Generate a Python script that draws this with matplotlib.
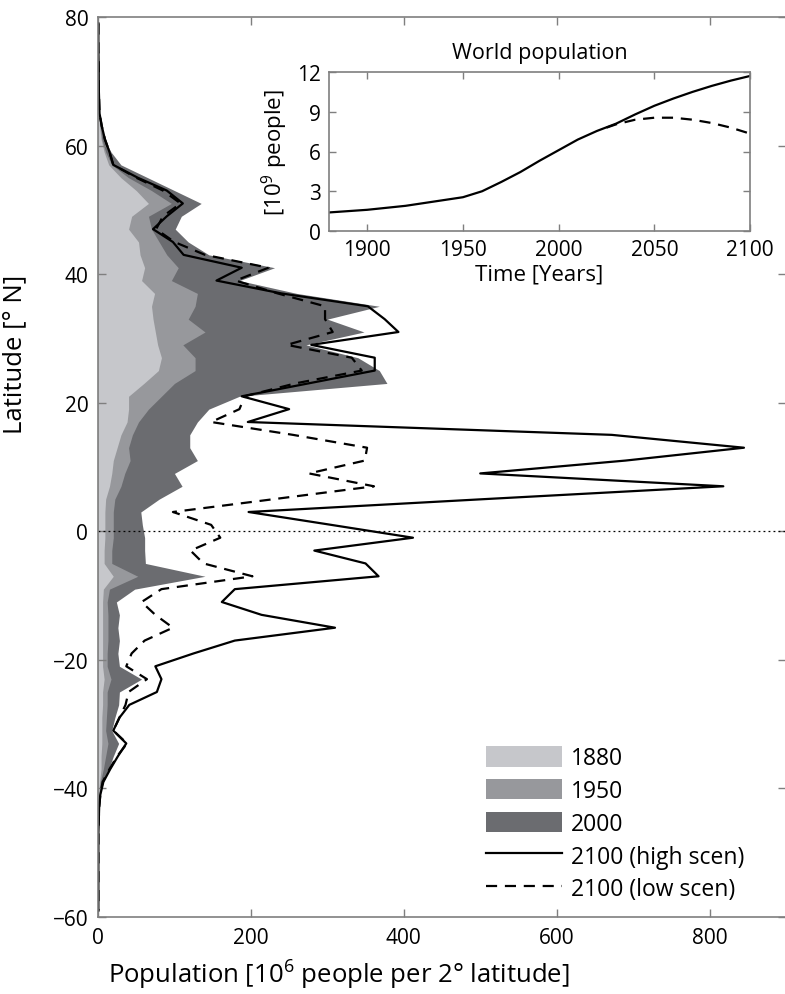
import matplotlib
matplotlib.use("Agg")
import matplotlib.pyplot as plt
import numpy as np
from matplotlib.patches import Patch
from matplotlib.lines import Line2D

plt.rcParams['font.family'] = ['Open Sans', 'DejaVu Sans']
plt.rcParams['mathtext.fontset'] = 'custom'
plt.rcParams['mathtext.rm'] = 'Open Sans'
plt.rcParams['mathtext.default'] = 'regular'

# latitude bin centres (2 degree bins)
lat = np.arange(79, -60, -2)

pop_1880 = [0, 0, 0, 0, 0, 0, 0.5, 1, 2, 4, 8, 14, 30, 50, 66, 44, 40, 53, 55, 61,
            57, 74, 70, 72, 75, 78, 83, 79, 60, 40, 40, 38, 30, 25, 20, 18, 15, 10, 9, 9,
            9, 8, 8, 20, 7, 6, 6, 6, 6, 6, 6, 8, 6, 6, 5, 5, 5, 4, 4, 2,
            1, 0.5, 0, 0, 0, 0, 0, 0, 0, 0]
pop_1950 = [0, 0, 0, 0, 0, 0.5, 1, 1.5, 3, 5, 10, 18, 40, 70, 96, 66, 70, 80, 90, 105,
            96, 130, 127, 118, 140, 111, 127, 127, 100, 83, 66, 53, 45, 40, 42, 35, 30, 22, 20, 20,
            20, 18, 18, 52, 15, 12, 13, 13, 13, 12, 12, 17, 12, 12, 11, 10, 13, 10, 7, 3,
            1, 0.5, 0, 0, 0, 0, 0, 0, 0, 0]
pop_2000 = [0.3, 0.3, 0.3, 0.5, 0.5, 0.8, 1, 1.5, 4, 8, 17, 30, 65, 100, 135, 109, 101, 118, 145, 231,
            185, 260, 368, 300, 348, 272, 340, 368, 378, 185, 145, 130, 120, 120, 130, 100, 110, 80, 56, 58,
            61, 61, 62, 140, 48, 24, 28, 26, 28, 26, 28, 57, 28, 27, 22, 18, 27, 20, 14, 6,
            2, 1, 0.5, 0.3, 0.3, 0.3, 0.3, 0.3, 0.3, 0.3]
pop_2100_high = [0.5, 0.5, 0.5, 0.8, 1, 1, 1.5, 2, 5, 9, 15, 20, 52, 90, 111, 90, 72, 98, 112, 188,
                 155, 240, 353, 375, 393, 279, 362, 362, 275, 188, 250, 196, 672, 845, 690, 500, 818, 505, 197, 305,
                 412, 283, 350, 367, 179, 162, 214, 310, 179, 125, 75, 83, 77, 41, 28, 20, 37, 26, 16, 7,
                 3, 1.5, 1, 0.5, 0.5, 0.5, 0.5, 0.5, 0.5, 0.5]
pop_2100_low = [0.5, 0.5, 0.5, 0.8, 1, 1, 1.5, 2, 5, 9, 15, 20, 50, 85, 108, 85, 76, 100, 140, 223,
                180, 235, 297, 297, 307, 247, 332, 345, 258, 192, 185, 148, 255, 352, 349, 276, 361, 230, 98, 148,
                160, 121, 138, 202, 83, 57, 75, 98, 61, 44, 37, 64, 40, 36, 28, 20, 38, 25, 15, 6,
                3, 1.5, 1, 0.5, 0.5, 0.5, 0.5, 0.5, 0.5, 0.5]

# world population inset [10^9 people]
years = [1880, 1900, 1920, 1950, 1960, 1970, 1980, 1990, 2000, 2010, 2020, 2030, 2040,
         2050, 2060, 2070, 2080, 2090, 2100]
world_high = [1.4, 1.6, 1.9, 2.55, 3.0, 3.7, 4.45, 5.3, 6.1, 6.9, 7.55, 8.1, 8.8,
              9.45, 10.0, 10.5, 10.95, 11.35, 11.7]
years_low = [2025, 2030, 2040, 2050, 2060, 2070, 2080, 2090, 2100]
world_low = [7.8, 8.05, 8.4, 8.55, 8.55, 8.4, 8.15, 7.8, 7.35]

c1880 = '#c6c7cb'
c1950 = '#97989c'
c2000 = '#6b6c70'
spine_col = '#7f7f7f'

fig = plt.figure(figsize=(7.85, 9.95), dpi=100)
ax = fig.add_axes([98 / 785, 1 - 918 / 995, 688 / 785, 900 / 995])

ax.fill_betweenx(lat, 0, pop_2000, color=c2000, lw=0)
ax.fill_betweenx(lat, 0, pop_1950, color=c1950, lw=0)
ax.fill_betweenx(lat, 0, pop_1880, color=c1880, lw=0)
ax.plot(pop_2100_high, lat, color='k', lw=1.6)
ax.plot(pop_2100_low, lat, color='k', lw=1.6, dashes=(5, 3.5))
ax.axhline(0, color='k', lw=0.9, ls=(0, (1.5, 2.5)))

ax.set_xlim(0, 900)
ax.set_ylim(-60, 80)
ax.set_xticks([0, 200, 400, 600, 800])
ax.set_yticks(np.arange(-60, 81, 20))
ax.tick_params(direction='in', top=True, right=True, length=6, width=1,
               color=spine_col, labelsize=15, pad=7)
for s in ax.spines.values():
    s.set_color(spine_col)
    s.set_linewidth(1.2)
ax.set_ylabel('Latitude [° N]', fontsize=18.5)
ax.yaxis.set_label_coords(-0.103, 0.626)
ax.set_xlabel('Population [10$^6$ people per 2° latitude]', fontsize=18.5)
ax.xaxis.set_label_coords(0.35, -0.045)

handles = [Patch(facecolor=c1880, edgecolor='none'),
           Patch(facecolor=c1950, edgecolor='none'),
           Patch(facecolor=c2000, edgecolor='none'),
           Line2D([], [], color='k', lw=1.6),
           Line2D([], [], color='k', lw=1.6, dashes=(5, 3.5))]
labels = ['1880', '1950', '2000', '2100 (high scen)', '2100 (low scen)']
ax.legend(handles, labels, loc='upper left', bbox_to_anchor=(486 / 785, 1 - 747 / 995),
          bbox_transform=fig.transFigure, frameon=False, fontsize=16.5,
          borderpad=0, borderaxespad=0, handlelength=3.3, handleheight=1.0,
          handletextpad=0.4, labelspacing=0.38)

# inset
ins = fig.add_axes([329 / 785, 1 - 232 / 995, 421 / 785, 159 / 995])
ins.plot(years, world_high, color='k', lw=1.6)
ins.plot(years_low, world_low, color='k', lw=1.6, dashes=(5, 3.5))
ins.set_xlim(1880, 2100)
ins.set_ylim(0, 12)
ins.set_xticks([1900, 1950, 2000, 2050, 2100])
ins.set_yticks([0, 3, 6, 9, 12])
ins.tick_params(direction='in', top=True, right=True, length=5, width=1,
                color=spine_col, labelsize=15, pad=6)
for s in ins.spines.values():
    s.set_color(spine_col)
    s.set_linewidth(1.2)
ins.set_title('World population', fontsize=15.5, pad=10)
ins.set_xlabel('Time [Years]', fontsize=16, labelpad=2)
ins.set_ylabel('[10$^9$ people]', fontsize=16, labelpad=5)

fig.savefig('out.png', dpi=100)
